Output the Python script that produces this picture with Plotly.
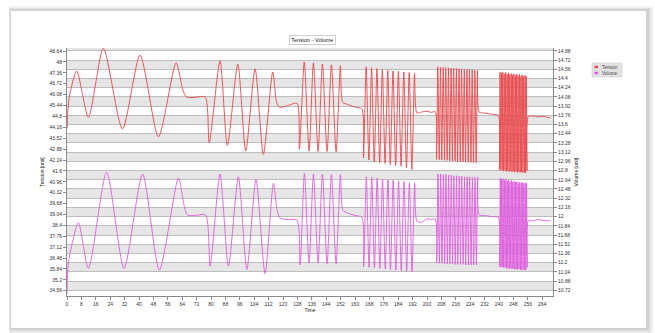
import plotly.graph_objects as go

# ---- axis ticks ----
x_ticks = [0, 8, 16, 24, 32, 40, 48, 56, 64, 72, 80, 88, 96, 104, 112, 120, 128,
           136, 144, 152, 160, 168, 176, 184, 192, 200, 208, 216, 224, 232, 240,
           248, 256, 264]
tension_ticks = [48.64, 48, 47.36, 46.72, 46.08, 45.44, 44.8, 44.16, 43.52, 42.88,
                 42.24, 41.6, 40.96, 40.32, 39.68, 39.04, 38.4, 37.76, 37.12, 36.48,
                 35.84, 35.2, 34.56]
volume_ticks = [14.88, 14.72, 14.56, 14.4, 14.24, 14.08, 13.92, 13.76, 13.6, 13.44,
                13.28, 13.12, 12.96, 12.8, 12.64, 12.48, 12.32, 12.16, 12, 11.84,
                11.68, 11.52, 11.36, 11.2, 11.04, 10.88, 10.72]

# ---- Tension: turning points per test block ----
tension_t_slow = [0, 1.2, 5.4, 11.9, 20.2, 30.8, 40.6, 50.8, 60.6, 64.5, 66.5, 71.5,
                  76.8, 79.0, 85.0, 89.1, 94.9, 99.3, 104.5, 109.1, 114.3, 116.5,
                  118.0, 123.0, 127.8]
tension_v_slow = [44.1, 45.9, 47.47, 44.75, 48.8, 44.06, 48.4, 43.6, 47.95, 46.3,
                  45.93, 45.92, 45.95, 43.26, 48.06, 43.1, 47.87, 42.77, 47.6, 42.57,
                  47.41, 45.6, 45.34, 45.45, 45.57]
tension_t_b3 = [129.1, 131.8, 134.5, 136.9, 139.5, 141.9, 144.5, 146.9, 149.5, 151.9,
                153.2, 156.0, 160.0, 163.8]
tension_v_b3 = [42.87, 48.0, 42.77, 47.95, 42.75, 47.88, 42.74, 47.83, 42.72, 47.78,
                45.63, 45.5, 45.35, 45.24]
tension_t_b4 = [164.7, 166.2, 167.7, 169.2, 170.7, 172.2, 173.7, 175.2, 176.7, 178.2,
                179.6, 181.1, 182.6, 184.1, 185.6, 187.1, 188.6, 190.1, 191.6, 193.1,
                194.4, 197.0, 200.0, 202.5, 204.6]
tension_v_b4 = [42.37, 47.71, 42.24, 47.65, 42.12, 47.61, 42.08, 47.57, 42.04, 47.51,
                41.98, 47.47, 41.92, 47.45, 41.88, 47.41, 41.78, 47.38, 41.68, 47.32,
                45.0, 45.06, 45.1, 45.04, 45.08]
tension_t_b5 = [205.3, 206.0, 206.8, 207.5, 208.2, 209.0, 209.7, 210.4, 211.2, 211.9,
                212.6, 213.4, 214.1, 214.8, 215.6, 216.3, 217.0, 217.8, 218.5, 219.2,
                220.0, 220.7, 221.4, 222.2, 222.9, 223.6, 224.4, 225.1, 225.8, 226.6,
                227.3, 228.1, 229.0, 232.0, 236.0, 239.6]
tension_v_b5 = [42.28, 47.71, 42.26, 47.70, 42.25, 47.68, 42.23, 47.67, 42.22, 47.66,
                42.20, 47.64, 42.19, 47.63, 42.18, 47.62, 42.16, 47.60, 42.15, 47.59,
                42.14, 47.58, 42.12, 47.56, 42.11, 47.55, 42.10, 47.54, 42.09, 47.52,
                42.08, 47.51, 45.05, 45.0, 44.93, 44.85]
tension_t_b6 = [240.2, 240.6, 241.0, 241.4, 241.8, 242.1, 242.5, 242.9, 243.3, 243.7,
                244.1, 244.5, 244.8, 245.2, 245.6, 246.0, 246.4, 246.8, 247.2, 247.5,
                247.9, 248.3, 248.7, 249.1, 249.5, 249.8, 250.2, 250.6, 251.0, 251.4,
                251.8, 252.2, 252.5, 252.9, 253.3, 253.7, 254.1, 254.5, 254.8, 255.2,
                255.6, 256.3, 259.0, 262.0, 264.5, 268.5]
tension_v_b6 = [41.68, 47.41, 41.62, 47.35, 41.66, 47.42, 41.58, 47.30, 41.64, 47.38,
                41.56, 47.28, 41.62, 47.36, 41.55, 47.25, 41.60, 47.33, 41.54, 47.24,
                41.58, 47.31, 41.52, 47.22, 41.57, 47.29, 41.51, 47.20, 41.55, 47.27,
                41.50, 47.18, 41.54, 47.25, 41.49, 47.17, 41.52, 47.22, 41.48, 47.15,
                41.60, 44.8, 44.82, 44.78, 44.8, 44.72]

# ---- Volume: turning points per test block ----
volume_t_slow = [0, 0.8, 6.3, 11.9, 22.0, 31.7, 42.0, 51.3, 61.9, 65.0, 66.8, 71.5,
                 77.0, 79.5, 85.0, 89.7, 95.2, 99.9, 105.0, 110.0, 114.7, 116.8,
                 118.5, 123.0, 127.8]
volume_v_slow = [10.65, 11.2, 11.89, 11.1, 12.77, 11.1, 12.74, 11.07, 12.67, 12.2,
                 12.03, 12.02, 12.03, 11.14, 12.74, 11.14, 12.69, 11.08, 12.65, 11.01,
                 12.58, 12.1, 11.97, 11.95, 11.94]
volume_t_b3 = [129.5, 131.9, 134.5, 136.9, 139.5, 141.9, 144.5, 146.9, 149.5, 151.9,
               153.3, 156.0, 160.0, 163.8]
volume_v_b3 = [11.16, 12.75, 11.19, 12.74, 11.19, 12.74, 11.18, 12.73, 11.18, 12.73,
               12.11, 12.06, 12.02, 11.99]
volume_t_b4 = [164.8, 166.3, 167.8, 169.3, 170.8, 172.3, 173.8, 175.3, 176.8, 178.3,
               179.7, 181.2, 182.7, 184.2, 185.7, 187.2, 188.7, 190.2, 191.7, 193.2,
               194.4, 197.0, 200.0, 202.5, 204.6]
volume_v_b4 = [11.13, 12.69, 11.12, 12.68, 11.11, 12.67, 11.10, 12.65, 11.09, 12.64,
               11.08, 12.63, 11.07, 12.62, 11.06, 12.61, 11.05, 12.59, 11.04, 12.58,
               11.92, 11.9, 11.96, 11.95, 11.96]
volume_t_b5 = [205.4, 206.1, 206.9, 207.6, 208.3, 209.1, 209.8, 210.5, 211.3, 212.0,
               212.7, 213.5, 214.2, 214.9, 215.7, 216.4, 217.1, 217.9, 218.6, 219.3,
               220.1, 220.8, 221.5, 222.3, 223.0, 223.7, 224.5, 225.2, 225.9, 226.7,
               227.4, 228.2, 229.0, 232.0, 236.0, 239.6]
volume_v_b5 = [11.19, 12.74, 11.19, 12.74, 11.19, 12.73, 11.18, 12.73, 11.18, 12.72,
               11.18, 12.72, 11.18, 12.71, 11.17, 12.71, 11.17, 12.70, 11.17, 12.70,
               11.17, 12.69, 11.16, 12.69, 11.16, 12.69, 11.16, 12.68, 11.16, 12.68,
               11.16, 12.68, 12.03, 12.02, 12.0, 11.99]
volume_t_b6 = [240.3, 240.7, 241.1, 241.5, 241.9, 242.2, 242.6, 243.0, 243.4, 243.8,
               244.2, 244.6, 244.9, 245.3, 245.7, 246.1, 246.5, 246.9, 247.3, 247.6,
               248.0, 248.4, 248.8, 249.2, 249.6, 249.9, 250.3, 250.7, 251.1, 251.5,
               251.9, 252.3, 252.6, 253.0, 253.4, 253.8, 254.2, 254.6, 254.9, 255.3,
               255.7, 256.3, 259.0, 262.0, 264.5, 268.5]
volume_v_b6 = [11.13, 12.67, 11.12, 12.65, 11.13, 12.66, 11.11, 12.63, 11.12, 12.65,
               11.10, 12.62, 11.11, 12.64, 11.09, 12.61, 11.10, 12.63, 11.09, 12.60,
               11.10, 12.62, 11.08, 12.60, 11.09, 12.61, 11.08, 12.59, 11.09, 12.60,
               11.07, 12.58, 11.08, 12.60, 11.07, 12.58, 11.08, 12.59, 11.07, 12.58,
               11.12, 11.93, 11.93, 11.95, 11.93, 11.93]

tension_t = (tension_t_slow + tension_t_b3 + tension_t_b4 + tension_t_b5 + tension_t_b6)
tension_v = (tension_v_slow + tension_v_b3 + tension_v_b4 + tension_v_b5 + tension_v_b6)
volume_t = (volume_t_slow + volume_t_b3 + volume_t_b4 + volume_t_b5 + volume_t_b6)
volume_v = (volume_v_slow + volume_v_b3 + volume_v_b4 + volume_v_b5 + volume_v_b6)

series_names = ["Tension", "Volume"]

FONT = "Liberation Sans, Arial, sans-serif"
TENSION_COLOR = "#e8474b"
VOLUME_COLOR = "#de5ede"
series_colors = [TENSION_COLOR, VOLUME_COLOR]

fig = go.Figure()
fig.add_trace(go.Scatter(
    x=tension_t, y=tension_v, name=series_names[0], mode="lines",
    line=dict(color=TENSION_COLOR, width=0.9, shape="spline", smoothing=0.7),
    yaxis="y", showlegend=False,
))
fig.add_trace(go.Scatter(
    x=volume_t, y=volume_v, name=series_names[1], mode="lines",
    line=dict(color=VOLUME_COLOR, width=0.9, shape="spline", smoothing=0.7),
    yaxis="y2", showlegend=False,
))

# plot-area geometry in pixels, used to place the frame and the key
L, R, T, B = 67, 553, 48, 296
W, H = R - L, B - T


def px_x(p):
    return (p - L) / W


def px_y(p):
    return (B - p) / H


shapes = []
# soft drop shadow and white card behind the chart
for x0, y0, x1, y1, col in [
    (9, 6, 653, 333, "#f1f1f1"),
    (9, 8, 651, 332, "#e2e2e2"),
    (10, 9, 649, 330, "#d2d2d2"),
]:
    shapes.append(dict(type="rect", xref="paper", yref="paper", layer="below",
                       x0=px_x(x0), x1=px_x(x1), y0=px_y(y1), y1=px_y(y0),
                       fillcolor=col, line=dict(width=0)))
shapes.append(dict(type="rect", xref="paper", yref="paper", layer="below",
                   x0=px_x(11), x1=px_x(646), y0=px_y(328), y1=px_y(11),
                   fillcolor="white", line=dict(width=0)))

# alternating row shading following the volume grid
y2_top, y2_bottom = 14.93, 10.62
bands = [y2_top] + volume_ticks + [y2_bottom]
for i in range(len(bands) - 1):
    if i % 2 == 0:
        shapes.append(dict(type="rect", xref="paper", yref="y2", layer="below",
                           x0=0, x1=1, y0=bands[i + 1], y1=bands[i],
                           fillcolor="#e6e6e6", line=dict(width=0)))

# compact key box to the right of the plot
shapes.append(dict(type="rect", xref="paper", yref="paper", layer="above",
                   x0=px_x(592), x1=px_x(622), y0=px_y(77), y1=px_y(63),
                   fillcolor="#e2e2e2", line=dict(color="#c8c8c8", width=0.5)))
key_rows = [67.0, 73.0]
annotations = []
for name, col, yy in zip(series_names, series_colors, key_rows):
    shapes.append(dict(type="rect", xref="paper", yref="paper", layer="above",
                       x0=px_x(594.5), x1=px_x(598), y0=px_y(yy + 1.2), y1=px_y(yy - 1.2),
                       fillcolor=col, line=dict(width=0)))
    annotations.append(dict(
        text=name, xref="paper", yref="paper", x=px_x(599.5), y=px_y(yy),
        xanchor="left", yanchor="middle", showarrow=False,
        font=dict(family=FONT, size=4.5, color="#444444")))

annotations.append(dict(
    text="Tension - Volume", xref="paper", yref="paper",
    x=px_x(312), y=px_y(40), xanchor="center", yanchor="middle",
    showarrow=False, font=dict(family=FONT, size=5.5, color="#222222"),
    bgcolor="white", bordercolor="#b8b8b8", borderwidth=0.7, borderpad=1.5,
))

tick_font = dict(family=FONT, size=5, color="#333333")
title_font = dict(family=FONT, size=5, color="#222222")

fig.update_layout(
    width=655, height=333,
    margin=dict(l=L, r=655 - R, t=T, b=333 - B, pad=0),
    paper_bgcolor="white",
    plot_bgcolor="rgba(0,0,0,0)",
    font=dict(family=FONT, size=5, color="#333333"),
    shapes=shapes,
    annotations=annotations,
    showlegend=False,
    xaxis=dict(
        range=[0, 270], tickmode="array", tickvals=x_ticks,
        ticktext=[str(v) for v in x_ticks],
        showgrid=False, zeroline=False, showline=True, linecolor="#8a8a8a",
        linewidth=1, ticks="outside", ticklen=3, tickcolor="#8a8a8a",
        tickfont=tick_font,
        title=dict(text="Time", font=title_font, standoff=2),
    ),
    yaxis=dict(
        range=[34.25, 48.82], tickmode="array", tickvals=tension_ticks,
        ticktext=[f"{v:g}" for v in tension_ticks],
        showgrid=False, zeroline=False, showline=True, linecolor="#8a8a8a",
        linewidth=1, ticks="outside", ticklen=3, tickcolor="#8a8a8a",
        tickfont=tick_font,
        title=dict(text="Tension [unit]", font=title_font, standoff=4),
    ),
    yaxis2=dict(
        range=[y2_bottom, y2_top], overlaying="y", side="right",
        tickmode="array", tickvals=volume_ticks,
        ticktext=[f"{v:g}" for v in volume_ticks],
        showgrid=True, gridcolor="#bdbdbd", gridwidth=0.8, zeroline=False,
        showline=True, linecolor="#8a8a8a", linewidth=1,
        ticks="outside", ticklen=3, tickcolor="#8a8a8a",
        tickfont=tick_font,
        title=dict(text="Volume [unit]", font=title_font, standoff=4),
    ),
)

fig.write_html("out.html")
